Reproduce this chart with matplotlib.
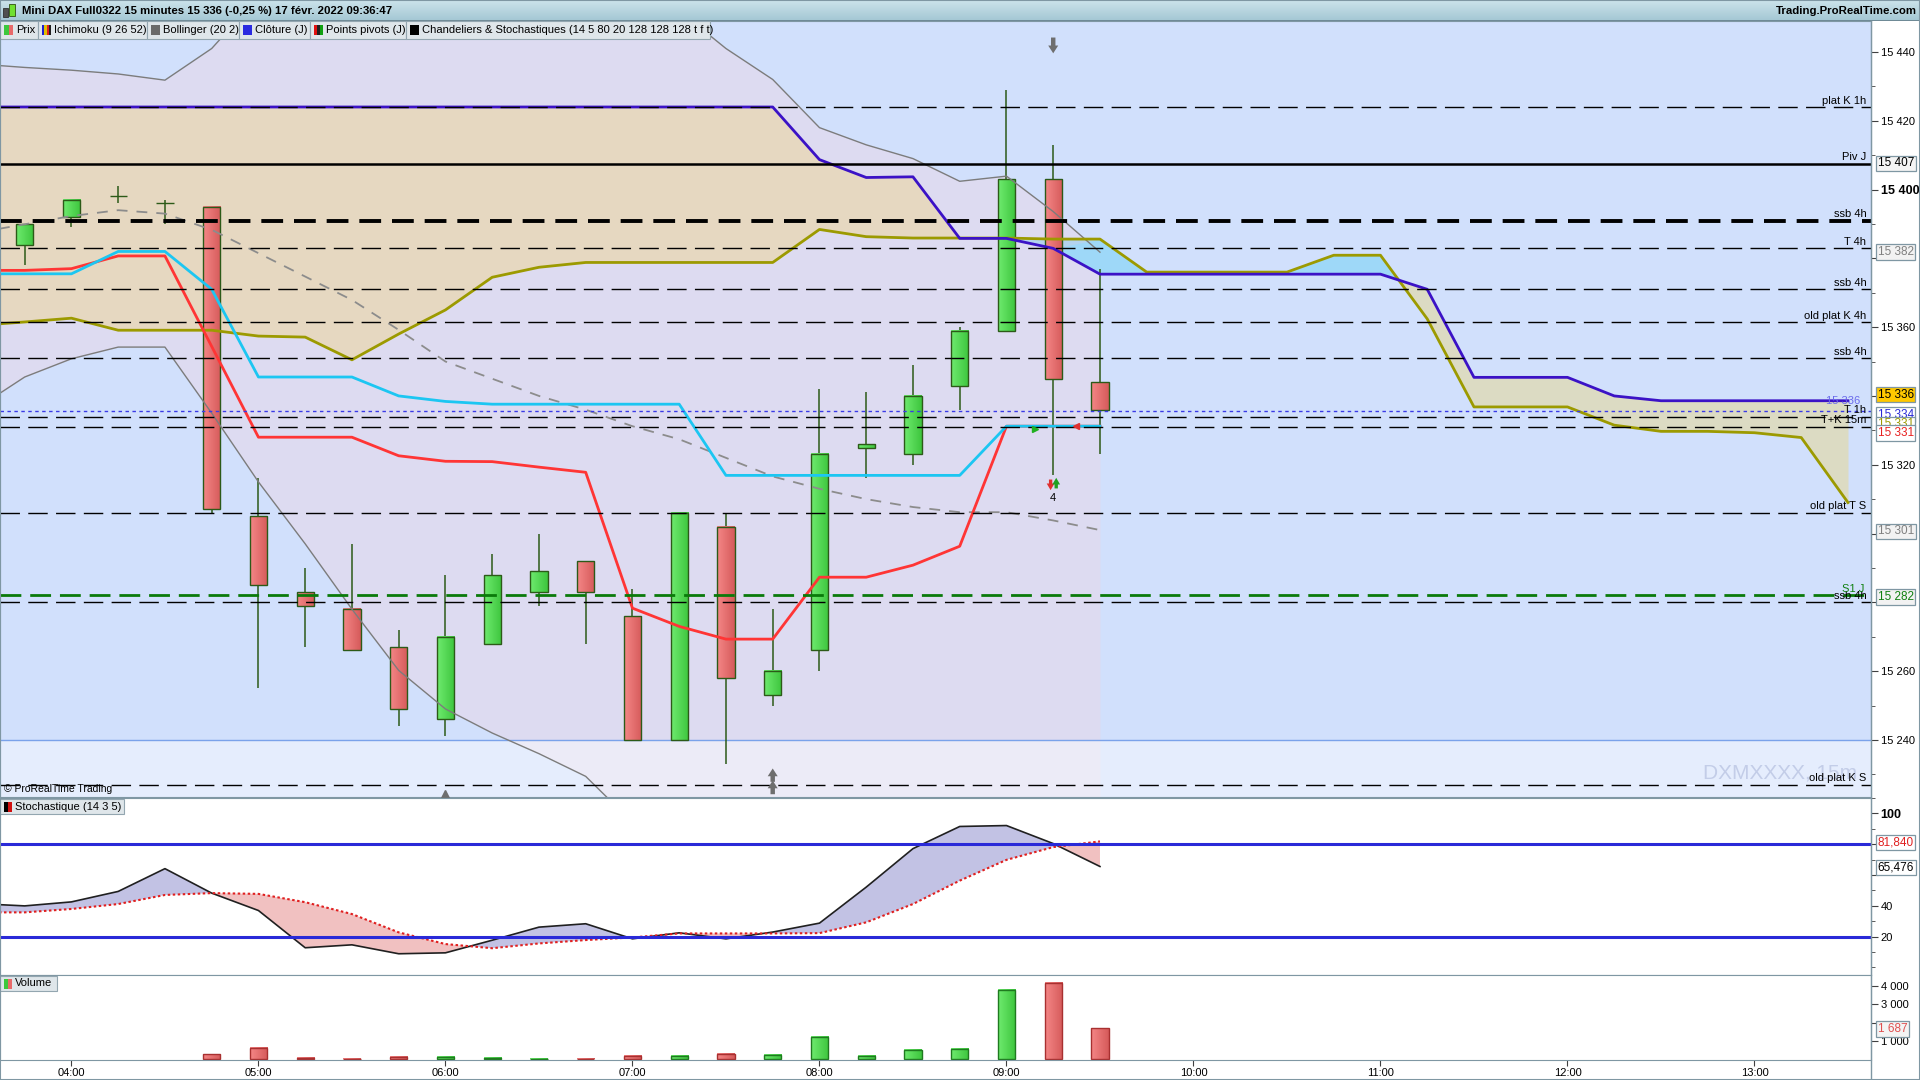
"""
Mini DAX 15 min : bougies, Ichimoku, Bollinger, niveaux, stochastique et volume.
"""

import numpy as np
import matplotlib.pyplot as plt
import matplotlib.transforms as mtransforms
from matplotlib.colors import to_rgb
from matplotlib.patches import Rectangle
from matplotlib.ticker import MultipleLocator

plt.rcParams['font.family'] = ['Liberation Sans', 'DejaVu Sans']
plt.rcParams['font.size'] = 8

# --- Bougies (15 min) ---
candle_times = ['03:45', '04:00', '04:15', '04:30', '04:45', '05:00', '05:15', '05:30',
                '05:45', '06:00', '06:15', '06:30', '06:45', '07:00', '07:15', '07:30',
                '07:45', '08:00', '08:15', '08:30', '08:45', '09:00', '09:15', '09:30']
opens = [15384, 15392, 15398, 15396, 15395, 15305, 15283, 15278,
         15267, 15246, 15268, 15283, 15292, 15276, 15240, 15302,
         15253, 15266, 15325, 15323, 15343, 15359, 15403, 15344]
highs = [15390, 15397, 15401, 15397, 15395, 15316, 15290, 15297,
         15272, 15288, 15294, 15300, 15292, 15284, 15306, 15306,
         15278, 15342, 15341, 15349, 15360, 15429, 15413, 15377]
lows = [15378, 15389, 15396, 15390, 15306, 15255, 15267, 15266,
        15244, 15241, 15268, 15279, 15268, 15240, 15240, 15233,
        15250, 15260, 15316, 15320, 15336, 15359, 15317, 15323]
closes = [15390, 15397, 15398, 15396, 15307, 15285, 15279, 15266,
          15249, 15270, 15288, 15289, 15283, 15240, 15306, 15258,
          15260, 15323, 15326, 15340, 15359, 15403, 15345, 15336]
volumes = [0, 0, 0, 0, 272, 616, 71, 30, 125, 125, 71, 30,
           30, 180, 180, 289, 235, 1216, 180, 507, 562, 3780, 4163, 1687]

# --- Indicateurs (03:30 -> 09:30) ---
ind_times = ['03:30'] + candle_times
tenkan = [15376.5, 15376.5, 15377, 15380.7, 15380.7, 15354.4, 15328, 15328, 15328,
          15322.6, 15321, 15320.9, 15319.3, 15317.8, 15278.3, 15273, 15269.3, 15269.3,
          15287.3, 15287.3, 15290.8, 15296.3, 15331.2, 15331.2, 15331.2]
kijun = [15375.5, 15375.5, 15375.5, 15382, 15382, 15371, 15345.5, 15345.5, 15345.5,
         15340, 15338.4, 15337.6, 15337.6, 15337.6, 15337.6, 15337.6, 15316.9, 15316.9,
         15316.9, 15316.9, 15316.9, 15316.9, 15331.2, 15331.2, 15331.2]
bb_upper = [15436.5, 15435.5, 15434.7, 15433.6, 15431.8, 15441, 15456, 15466, 15472,
            15475, 15478, 15480, 15480, 15479, 15470, 15452, 15441, 15432,
            15418, 15413, 15409, 15402.4, 15403.9, 15393.6, 15381.8]
bb_middle = [15387.5, 15389.9, 15392.3, 15394, 15393, 15388.3, 15381.5, 15374.7, 15367.9,
             15359.2, 15350, 15345, 15340, 15336, 15331.2, 15327.4, 15322, 15316.6,
             15313, 15310, 15307.7, 15306.2, 15306.2, 15303.8, 15301]
bb_lower = [15336.6, 15345.5, 15350.8, 15354.2, 15354.2, 15335, 15315, 15297, 15278,
            15260.2, 15249, 15242, 15236, 15229.4, 15216, 15205, 15196, 15190,
            15186, 15184, 15183, 15185, 15190, 15198, 15210]
stoch_k = [41.4, 39.9, 42.5, 49.3, 64.1, 48.2, 36.9, 12.7, 14.6, 8.8, 9.4, 17.6, 26.1,
           28.3, 18.5, 22.4, 18.5, 22.9, 28.7, 52.1, 77.1, 91.5, 92.1, 80.4, 65.5]
stoch_d = [35.7, 35.7, 37.9, 41.1, 47.0, 48.2, 47.7, 42.3, 34.6, 22.7, 15.1, 12.4, 15.5,
           17.7, 19.4, 22.0, 22.0, 22.0, 22.2, 29.2, 41.1, 56.3, 69.8, 78.1, 81.8]

# --- Nuage Ichimoku (projeté jusqu'à 13:30) ---
cloud_times = ind_times + ['09:45', '10:00', '10:15', '10:30', '10:45', '11:00', '11:15', '11:30',
                           '11:45', '12:00', '12:15', '12:30', '12:45', '13:00', '13:15', '13:30']
span_a = [15424] * 18 + [15408.7, 15403.5, 15403.7, 15385.8, 15385.8, 15382.9, 15375.4,
                         15375.4, 15375.4, 15375.4, 15375.4, 15375.4, 15375.4, 15371, 15345.4,
                         15345.4, 15345.4, 15340, 15338.6, 15338.6, 15338.6, 15338.6, 15338.6]
span_b = [15360.5, 15361.5, 15362.6, 15359.1, 15359.1, 15359.1, 15357.4, 15357.1, 15350.5,
          15358, 15365, 15374.5, 15377.4, 15378.8, 15378.8, 15378.8, 15378.8, 15378.8,
          15388.4, 15386.3, 15385.9, 15385.9, 15385.9, 15385.6, 15385.6, 15376, 15376,
          15376, 15376, 15380.9, 15380.9, 15362.4, 15336.8, 15336.8, 15336.8, 15331.5,
          15329.7, 15329.7, 15329.3, 15327.9, 15309]

# --- Niveaux horizontaux ---
level_prices = [15424, 15407.5, 15391, 15383, 15371, 15361.4, 15351,
                15334, 15331, 15306, 15280, 15227]
level_names = ['plat K 1h', 'Piv J', 'ssb 4h', 'T 4h', 'ssb 4h', 'old plat K 4h', 'ssb 4h',
               'T 1h', 'T+K 15m', 'old plat T S', 'ssb 4h', 'old plat K S']
pivot_s1 = 15282
close_prev_day = 15335.6
zone_floor = 15240

# --- Axes et étiquettes ---
price_ticks = [15240, 15260, 15280, 15300, 15320, 15340, 15360, 15380, 15400, 15420, 15440]
price_tick_text = ['15 240', '15 260', '', '', '15 320', '', '15 360', '', '15 400', '15 420', '15 440']
stoch_ticks = [20, 40, 60, 80, 100]
stoch_tick_text = ['20', '40', '', '', '100']
vol_ticks = [1000, 2000, 3000, 4000]
vol_tick_text = ['1 000', '', '3 000', '4 000']
hour_ticks = ['04:00', '05:00', '06:00', '07:00', '08:00', '09:00', '10:00', '11:00', '12:00', '13:00']
price_tags = [15407.6, 15381.9, 15340.4, 15334.6, 15331.7, 15329.2, 15300.6, 15281.6]
price_tag_text = ['15 407', '15 382', '15 336', '15 334', '15 331', '15 331', '15 301', '15 282']
stoch_tags = [81.0, 64.7]
stoch_tag_text = ['81,840', '65,476']
legend_labels = ['Prix', 'Ichimoku (9 26 52)', 'Bollinger (20 2)', 'Clôture (J)',
                 'Points pivots (J)', 'Chandeliers & Stochastiques (14 5 80 20 128 128 128 t f t)']
title = 'Mini DAX Full0322 15 minutes 15 336 (-0,25 %) 17 févr. 2022 09:36:47'


def to_hours(labels):
    return np.array([int(s[:2]) + int(s[3:]) / 60.0 for s in labels])


t_c = to_hours(candle_times)
t_i = to_hours(ind_times)
t_k = to_hours(cloud_times)
o, h, l, c = map(np.array, (opens, highs, lows, closes))
up = c >= o

W, H = 1920, 1080
RIGHT = 1871
XMIN, XMAX = 3.618, 13.623
BW = 0.0925
EDGE = '#2c5a18'
GREEN_L, GREEN_R = '#6eea6e', '#3ec63e'
RED_L, RED_R = '#f48686', '#d65b5b'
FRAME = '#7f97a3'

fig = plt.figure(figsize=(W / 100, H / 100), dpi=100)
fig.patch.set_facecolor('white')


def fy(y):
    return 1 - y / H


def frect(x0, y0, w, hh, **kw):
    fig.add_artist(Rectangle((x0 / W, 1 - (y0 + hh) / H), w / W, hh / H,
                             transform=fig.transFigure, **kw))


def gradient_bars(ax, xs, bottoms, tops, is_up, edges, z):
    """Corps de bougie / barre avec dégradé horizontal (clair à gauche, foncé à droite)."""
    ramp = np.linspace(0, 1, 24)[None, :, None]
    for x, b, t, u in zip(xs, bottoms, tops, is_up):
        if t - b <= 0:
            continue
        cl, cr = (GREEN_L, GREEN_R) if u else (RED_L, RED_R)
        cl, cr = np.array(to_rgb(cl)), np.array(to_rgb(cr))
        ax.imshow(cl + (cr - cl) * ramp, extent=(x - BW / 2, x + BW / 2, b, t),
                  aspect='auto', interpolation='bilinear', zorder=z)
    ax.bar(xs, np.asarray(tops) - np.asarray(bottoms), bottom=bottoms, width=BW,
           fill=False, edgecolor=edges, lw=1, zorder=z + 0.1)


ax_p = fig.add_axes([0, fy(797), RIGHT / W, fy(21) - fy(797)])
ax_s = fig.add_axes([0, fy(975), RIGHT / W, fy(798) - fy(975)])
ax_v = fig.add_axes([0, fy(1060), RIGHT / W, fy(975) - fy(1060)])

for ax in (ax_p, ax_s, ax_v):
    for sp in ax.spines.values():
        sp.set_color(FRAME)
    ax.yaxis.tick_right()
    ax.tick_params(axis='y', which='major', direction='out', length=5, pad=2,
                   labelsize=8, color='#404040')
    ax.tick_params(axis='y', which='minor', direction='out', length=3, color='#404040')
    ax.tick_params(axis='x', which='both', bottom=False, labelbottom=False)

# ---------------- Prix ----------------
YMIN, YMAX = 15223.4, 15449.0
ax_p.set_facecolor('#d1e0fc')

# Bollinger (zone)
ax_p.fill_between(t_i, bb_lower, bb_upper, color='#dddbf1', lw=0, zorder=1)

# Nuage Ichimoku
sa, sb = np.array(span_a), np.array(span_b)
past = t_k <= 9.5
ax_p.fill_between(t_k, sa, sb, where=(sa >= sb) & past, interpolate=True,
                  color='#e6d8c1', lw=0, zorder=1.5)
ax_p.fill_between(t_k, sa, sb, where=(sa >= sb) & ~past, interpolate=True,
                  color='#dcdbc3', lw=0, zorder=1.5)
ax_p.fill_between(t_k, sa, sb, where=(sb > sa) & (t_k <= 9.5), interpolate=True,
                  color='#b3d3ee', lw=0, zorder=1.5)
ax_p.fill_between(t_k, sa, sb, where=(sb > sa) & (t_k >= 9.5), interpolate=True,
                  color='#9ed8f8', lw=0, zorder=1.5)

# zone sous 15 240
ax_p.axhspan(YMIN, zone_floor, color='white', alpha=0.45, lw=0, zorder=2)
ax_p.axhline(zone_floor, color='#7aa2ea', lw=1, zorder=2.1)
ax_p.text(13.55, 15230.5, 'DXMXXXX, 15m', fontsize=15, color='#c3cde8',
          ha='right', va='center', zorder=2.2)

# Bougies
ax_p.vlines(t_c, l, h, color=EDGE, lw=1.1, zorder=5)
gradient_bars(ax_p, t_c, np.minimum(o, c), np.maximum(o, c), up, EDGE, 6)

# Bollinger (lignes)
ax_p.plot(t_i, bb_upper, color='#7c7c7c', lw=1, zorder=7)
ax_p.plot(t_i, bb_lower, color='#7c7c7c', lw=1, zorder=7)
ax_p.plot(t_i, bb_middle, color='#8c8c8c', lw=1.3, ls=(0, (6, 5)), zorder=7)

# Ichimoku (lignes)
ax_p.plot(t_k, span_b, color='#9c9a00', lw=2, zorder=7.5)
ax_p.plot(t_k, span_a, color='#3b12c6', lw=2, zorder=7.6)
ax_p.plot(t_i, tenkan, color='#ff3535', lw=2, zorder=7.7)
ax_p.plot(t_i, kijun, color='#1cc6f2', lw=2, zorder=7.8)
ax_p.text(13.565, span_a[-1], '15 336', color='#6a6aec', fontsize=8,
          ha='right', va='center', zorder=9)

# Niveaux
for price, name in zip(level_prices, level_names):
    if name == 'Piv J':
        ax_p.axhline(price, color='black', lw=1.8, zorder=8)
    elif price == 15391:
        ax_p.axhline(price, color='black', lw=2.8, ls=(0, (5.6, 2.8)), zorder=8)
    else:
        ax_p.axhline(price, color='black', lw=1, ls=(0, (14, 6)), zorder=8)
    ax_p.annotate(name, (13.598, price), xytext=(0, 1), textcoords='offset points',
                  ha='right', va='bottom', fontsize=8, zorder=9)
ax_p.axhline(pivot_s1, color='#0a7a0a', lw=2, ls=(0, (7.5, 3.2)), zorder=8)
ax_p.annotate('S1 J', (13.585, pivot_s1), xytext=(0, 1), textcoords='offset points',
              ha='right', va='bottom', fontsize=8, color='#108010', zorder=9)
ax_p.axhline(close_prev_day, color='#3a3ae6', lw=1, ls=(0, (2.5, 2.5)), zorder=8)

# Signaux
arrow = dict(arrowstyle='simple,head_width=0.9,head_length=0.7,tail_width=0.4',
             color='#6e6e6e', lw=0)
ax_p.annotate('', xy=(9.25, 15438.8), xytext=(9.25, 15445), arrowprops=arrow, zorder=9)
ax_p.annotate('', xy=(7.75, 15229), xytext=(7.75, 15223.4), arrowprops=arrow, zorder=9)
ax_p.annotate('', xy=(7.75, 15232.5), xytext=(7.75, 15227), arrowprops=arrow, zorder=9)
ax_p.plot([6.0], [15224.4], marker='^', color='#6e6e6e', ms=6, zorder=9)
small = dict(arrowstyle='simple,head_width=0.7,head_length=0.6,tail_width=0.3', lw=0)
ax_p.annotate('', xy=(9.236, 15311.8), xytext=(9.236, 15316.5),
              arrowprops=dict(small, color='#e03030'), zorder=9)
ax_p.annotate('', xy=(9.266, 15317), xytext=(9.266, 15312.3),
              arrowprops=dict(small, color='#20a020'), zorder=9)
ax_p.text(9.25, 15310.4, '4', fontsize=8, ha='center', va='center', zorder=9)
ax_p.plot([9.15], [15330.3], marker='>', color='#20b020', ms=5, zorder=9)
ax_p.plot([9.37], [15331.2], marker='<', color='#e03030', ms=5, zorder=9)
ax_p.text(0.002, 0.004, '© ProRealTime Trading', transform=ax_p.transAxes,
          fontsize=7.5, ha='left', va='bottom', zorder=9)

ax_p.set_xlim(XMIN, XMAX)
ax_p.set_ylim(YMIN, YMAX)
ax_p.set_yticks(price_ticks)
ax_p.set_yticklabels(price_tick_text)
ax_p.yaxis.set_minor_locator(MultipleLocator(10))
for lab in ax_p.get_yticklabels():
    if lab.get_text() == '15 400':
        lab.set_fontweight('bold')
        lab.set_fontsize(9)

# étiquettes de valeurs sur l'axe
tag_style = {'15 407': ('black', '#f4f4f4'), '15 382': ('#808080', '#f2f2f2'),
             '15 336': ('black', '#ffc800'), '15 334': ('#2a2ad8', 'white'),
             '15 301': ('#808080', '#f2f2f2'), '15 282': ('#108010', '#f2f2f2')}
trans_p = mtransforms.blended_transform_factory(ax_p.transAxes, ax_p.transData)
for i, (val, txt) in enumerate(zip(price_tags, price_tag_text)):
    if txt == '15 331':
        fg, bg = ('#9c9a00', 'white') if i == 4 else ('#e82020', 'white')
    else:
        fg, bg = tag_style[txt]
    ax_p.text(1.0035, val, txt, transform=trans_p, fontsize=8.5, color=fg,
              ha='left', va='center', clip_on=False, zorder=10,
              bbox=dict(boxstyle='square,pad=0.15', fc=bg, ec=FRAME, lw=0.9))

# ---------------- Stochastique ----------------
k, d = np.array(stoch_k), np.array(stoch_d)
ax_s.set_xlim(XMIN, XMAX)
ax_s.set_ylim(-5, 110)
ax_s.set_facecolor('white')
ax_s.fill_between(t_i, k, d, where=k >= d, interpolate=True, color='#c2c2e4', lw=0)
ax_s.fill_between(t_i, k, d, where=k < d, interpolate=True, color='#f1c1c1', lw=0)
ax_s.plot(t_i, k, color='#202020', lw=1.2, zorder=3)
ax_s.plot(t_i, d, color='#e02020', lw=1.5, ls=(0, (1.2, 1.2)), zorder=3)
ax_s.axhline(80, color='#2a2ad8', lw=2.2, zorder=4)
ax_s.axhline(20, color='#2a2ad8', lw=2.2, zorder=4)
ax_s.set_yticks(stoch_ticks)
ax_s.set_yticklabels(stoch_tick_text)
ax_s.yaxis.set_minor_locator(MultipleLocator(10))
for lab in ax_s.get_yticklabels():
    if lab.get_text() == '100':
        lab.set_fontweight('bold')
        lab.set_fontsize(9)
trans_s = mtransforms.blended_transform_factory(ax_s.transAxes, ax_s.transData)
for val, txt, fg in zip(stoch_tags, stoch_tag_text, ['#e02020', 'black']):
    ax_s.text(1.0035, val, txt, transform=trans_s, fontsize=8.5, color=fg,
              ha='left', va='center', clip_on=False,
              bbox=dict(boxstyle='square,pad=0.15', fc='white', ec=FRAME, lw=0.9))

# ---------------- Volume ----------------
vol = np.array(volumes)
has_vol = vol > 0
ax_v.set_facecolor('white')
gradient_bars(ax_v, t_c[has_vol], np.zeros(has_vol.sum()), vol[has_vol], up[has_vol],
              np.where(up[has_vol], '#1f7a1f', '#a83030'), 2)
ax_v.set_xlim(XMIN, XMAX)
ax_v.set_ylim(-38, 4600)
ax_v.set_yticks(vol_ticks)
ax_v.set_yticklabels(vol_tick_text)
trans_v = mtransforms.blended_transform_factory(ax_v.transAxes, ax_v.transData)
ax_v.text(1.0035, 1653, '1 687', transform=trans_v, fontsize=8.5, color='#e05050',
          ha='left', va='center', clip_on=False,
          bbox=dict(boxstyle='square,pad=0.15', fc='#f4f4f4', ec=FRAME, lw=0.9))
ax_v.set_xticks(to_hours(hour_ticks))
ax_v.set_xticklabels(hour_ticks)
ax_v.tick_params(axis='x', which='major', bottom=True, labelbottom=True,
                 direction='out', length=4, pad=2, labelsize=8, color='#404040')

# ---------------- En-tête ----------------
ax_t = fig.add_axes([0, fy(21), 1, 21 / H])
grad = np.linspace(0, 1, 20)[:, None, None]
top_col = np.array([0.80, 0.89, 0.92])
bot_col = np.array([0.64, 0.78, 0.83])
ax_t.imshow(top_col + (bot_col - top_col) * grad, aspect='auto', extent=(0, 1, 0, 1))
ax_t.set_axis_off()
fig.text(22 / W, fy(10.5), title, fontsize=8.2, fontweight='bold', va='center', ha='left')
fig.text(1917 / W, fy(10.5), 'Trading.ProRealTime.com', fontsize=8.2,
         fontweight='bold', va='center', ha='right')
frect(3, 8, 5, 9, fc='#505050', ec='#303030', lw=0.6)
frect(9, 4, 6, 12, fc='#70e030', ec='#305010', lw=0.6)
frect(0, 20, W, 1, fc='#6f8a96', lw=0)

# Légende des indicateurs
legend_x = [0, 38, 147, 239, 310, 406, 710]
legend_icons = [['#3cc83c', '#e86a6a'], ['#2020d0', '#e0c000', '#e02020', '#202020'],
                ['#6a6a6a'], ['#2a2ae0'], ['#e01010', '#202020', '#10a010'], ['#000000']]
for i, label in enumerate(legend_labels):
    x0, x1 = legend_x[i], legend_x[i + 1]
    frect(x0, 21, x1 - x0, 18, fc='#dfe6ea', ec='#93a6b0', lw=0.8)
    cols = legend_icons[i]
    sw = 9.0 / len(cols)
    for j, col in enumerate(cols):
        frect(x0 + 4 + j * sw, 25, sw, 10, fc=col, lw=0)
    fig.text((x0 + 16) / W, fy(30), label, fontsize=8, va='center', ha='left')

# Étiquettes des panneaux
frect(0, 799, 124, 15, fc='#dfe6ea', ec='#93a6b0', lw=0.8)
frect(4, 802, 4, 10, fc='#000000', lw=0)
frect(8, 802, 4, 10, fc='#d01010', lw=0)
fig.text(15 / W, fy(806.5), 'Stochastique (14 3 5)', fontsize=8, va='center', ha='left')
frect(0, 976, 57, 15, fc='#dfe6ea', ec='#93a6b0', lw=0.8)
frect(4, 979, 4, 10, fc='#3cc83c', lw=0)
frect(8, 979, 4, 10, fc='#e86a6a', lw=0)
fig.text(15 / W, fy(983.5), 'Volume', fontsize=8, va='center', ha='left')

# cadre
fig.add_artist(Rectangle((0, 0), 1, 1, transform=fig.transFigure, fill=False,
                         ec=FRAME, lw=1.5))
fig.add_artist(plt.Line2D([RIGHT / W, RIGHT / W], [0, fy(21)],
                          transform=fig.transFigure, color=FRAME, lw=1))

fig.savefig('out.png', dpi=100)
plt.close(fig)
